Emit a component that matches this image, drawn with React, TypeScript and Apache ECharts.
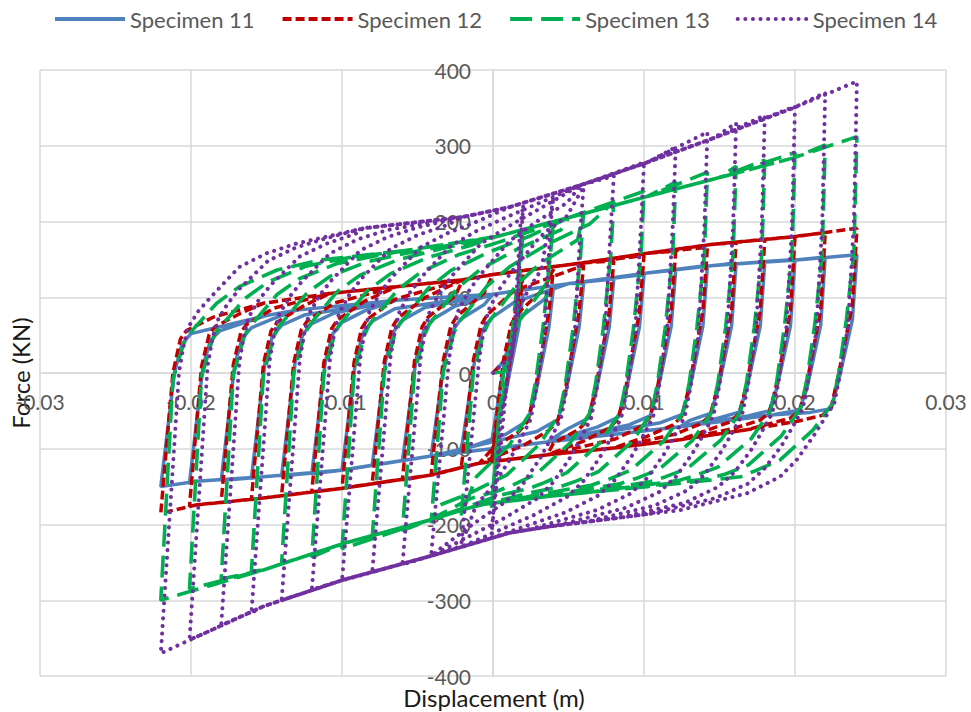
import React, { useEffect, useRef } from "react";
import * as echarts from "echarts";

// ---- axes ----
const xMin = -0.03;
const xMax = 0.03;
const xStep = 0.01;
const yMin = -400;
const yMax = 400;
const yStep = 100;

const seriesNames = ["Specimen 11", "Specimen 12", "Specimen 13", "Specimen 14"];

// ---- shared displacement protocol (peak displacements of each cycle, m) ----
const posPeakX = [0.002, 0.004, 0.006, 0.008, 0.01, 0.0121, 0.0142, 0.0161, 0.018, 0.02, 0.022, 0.0241];
const negPeakX = [-0.0001, -0.0021, -0.0041, -0.006, -0.008, -0.01, -0.012, -0.014, -0.016, -0.018, -0.0201, -0.022];

// ---- Specimen 11 ----
const s11PosF = [105, 112, 118, 124, 130, 136, 142, 145, 147, 150, 153, 156];
const s11NegF = [-92, -102, -110, -116, -122, -128, -133, -136, -139, -142, -145, -150];
const s11UpperX = [-0.0211, -0.0206, -0.02, -0.0185, -0.015, -0.013, -0.0064, 0.0, 0.005, 0.0102, 0.0146, 0.0199];
const s11UpperF = [0, 38, 52, 59, 76, 83, 96, 104, 118, 132, 142, 149];
const s11LowerX = [0.0238, 0.0229, 0.0224, 0.021, 0.0186, 0.0124, 0.0036, -0.0042, -0.0099, -0.0152, -0.0196];
const s11LowerF = [70, -9, -47, -52, -55, -71, -91, -110, -128, -137, -143];

// ---- Specimen 12 ----
const s12PosF = [130, 137, 142, 148, 155, 161, 166, 172, 176, 180, 185, 191];
const s12NegF = [-115, -125, -135, -141, -146, -152, -157, -162, -167, -171, -176, -185];
const s12UpperX = [-0.0212, -0.0207, -0.0203, -0.0185, -0.0152, -0.0108, -0.0064, -0.002, 0.0, 0.0058, 0.0102, 0.0146, 0.0199];
const s12UpperF = [0, 45, 56, 74, 92, 105, 114, 123, 130, 145, 158, 170, 180];
const s12LowerX = [0.0238, 0.0229, 0.0224, 0.0218, 0.0201, 0.0168, 0.0124, 0.008, 0.0036, -0.0009, -0.0042, -0.0099, -0.0152, -0.0196];
const s12LowerF = [90, 0, -45, -56, -64, -75, -88, -99, -108, -119, -135, -152, -165, -174];

// ---- Specimen 13 ----
const s13PosF = [190, 200, 212, 226, 240, 252, 265, 273, 281, 291, 301, 312];
const s13NegF = [-178, -188, -198, -208, -218, -232, -243, -252, -262, -272, -285, -300];
const s13UpperX = [-0.0212, -0.0205, -0.0202, -0.0183, -0.0168, -0.0143, -0.0115, -0.0057, 0.0002, 0.005, 0.0102, 0.015, 0.0199];
const s13UpperF = [-9, 38, 50, 92, 114, 136, 149, 162, 180, 205, 233, 258, 284];
const s13LowerX = [0.0239, 0.0234, 0.0229, 0.0225, 0.0212, 0.019, 0.0175, 0.0164, 0.0146, 0.0102, 0.0036, -0.0009, -0.0042, -0.0099, -0.0152, -0.0212];
const s13LowerF = [160, 70, 0, -40, -75, -115, -128, -137, -141, -150, -163, -174, -194, -225, -260, -295];

// ---- Specimen 14 ----
const s14PosF = [222, 232, 246, 260, 278, 298, 318, 330, 340, 352, 370, 385];
const s14NegF = [-213, -226, -241, -253, -263, -274, -286, -300, -317, -333, -352, -370];
const s14UpperX = [-0.0208, -0.0205, -0.0202, -0.0195, -0.0187, -0.0168, -0.015, -0.013, -0.0086, -0.002, 0.0011, 0.0058, 0.0102, 0.0146, 0.0199];
const s14UpperF = [0, 35, 60, 82, 100, 140, 158, 171, 191, 206, 219, 248, 278, 310, 350];
const s14LowerX = [0.0239, 0.0235, 0.023, 0.0226, 0.0218, 0.0212, 0.0201, 0.019, 0.0168, 0.0124, 0.008, 0.0036, 0.0011, -0.0042, -0.0099, -0.0152, -0.0196];
const s14LowerF = [200, 60, 0, -40, -65, -84, -115, -137, -159, -181, -192, -203, -211, -242, -273, -308, -348];

type Spec = {
  posF: number[];
  negF: number[];
  upperX: number[];
  upperF: number[];
  lowerX: number[];
  lowerF: number[];
  lu: number;
  ll: number;
};

const specs: Spec[] = [
  { posF: s11PosF, negF: s11NegF, upperX: s11UpperX, upperF: s11UpperF, lowerX: s11LowerX, lowerF: s11LowerF, lu: 0.005, ll: 0.005 },
  { posF: s12PosF, negF: s12NegF, upperX: s12UpperX, upperF: s12UpperF, lowerX: s12LowerX, lowerF: s12LowerF, lu: 0.006, ll: 0.006 },
  { posF: s13PosF, negF: s13NegF, upperX: s13UpperX, upperF: s13UpperF, lowerX: s13LowerX, lowerF: s13LowerF, lu: 0.014, ll: 0.014 },
  { posF: s14PosF, negF: s14NegF, upperX: s14UpperX, upperF: s14UpperF, lowerX: s14LowerX, lowerF: s14LowerF, lu: 0.012, ll: 0.012 },
];

function lookup(xs: number[], fs: number[], x: number): number {
  const pairs = xs.map((v, i) => [v, fs[i]]).sort((a, b) => a[0] - b[0]);
  if (x <= pairs[0][0]) return pairs[0][1];
  if (x >= pairs[pairs.length - 1][0]) return pairs[pairs.length - 1][1];
  for (let i = 1; i < pairs.length; i++) {
    if (x <= pairs[i][0]) {
      const [x0, f0] = pairs[i - 1];
      const [x1, f1] = pairs[i];
      return f0 + ((f1 - f0) * (x - x0)) / (x1 - x0);
    }
  }
  return pairs[pairs.length - 1][1];
}

const clamp01 = (v: number) => Math.max(0, Math.min(1, v));

function buildPath(sp: Spec): number[][] {
  const bigNeg = negPeakX[negPeakX.length - 1];
  const bigPos = posPeakX[posPeakX.length - 1];
  const pts: number[][] = [[0, 0]];

  const reload = (nx: number, target: number, targetF: number | null) => {
    const s = nx - bigNeg;
    const mergeX = nx + sp.lu;
    let lastX = nx;
    for (let j = 0; j < sp.upperX.length; j++) {
      const x = sp.upperX[j] + s;
      if (x >= target - 0.0003 || x >= mergeX) break;
      const w = clamp01((mergeX - x) / (mergeX - nx));
      const f = (1 - w) * lookup(sp.upperX, sp.upperF, x) + w * sp.upperF[j];
      pts.push([x, f]);
      lastX = x;
    }
    for (let j = 0; j < sp.upperX.length; j++) {
      const x = sp.upperX[j];
      if (x <= lastX + 0.0002) continue;
      if (x >= target - 0.0003) break;
      pts.push([x, sp.upperF[j]]);
    }
    if (targetF !== null) pts.push([target, targetF]);
  };

  const unload = (px: number, nx: number, nf: number) => {
    const s = px - bigPos;
    const mergeX = px - sp.ll;
    let lastX = px;
    for (let j = 0; j < sp.lowerX.length; j++) {
      const x = sp.lowerX[j] + s;
      if (x <= nx + 0.0003 || x <= mergeX) break;
      const w = clamp01((x - mergeX) / (px - mergeX));
      const f = (1 - w) * lookup(sp.lowerX, sp.lowerF, x) + w * sp.lowerF[j];
      pts.push([x, f]);
      lastX = x;
    }
    for (let j = 0; j < sp.lowerX.length; j++) {
      const x = sp.lowerX[j];
      if (x >= lastX - 0.0002) continue;
      if (x <= nx + 0.0003) break;
      pts.push([x, sp.lowerF[j]]);
    }
    pts.push([nx, nf]);
  };

  let nx = 0;
  for (let i = 0; i < posPeakX.length; i++) {
    reload(nx, posPeakX[i], sp.posF[i]);
    unload(posPeakX[i], negPeakX[i], sp.negF[i]);
    nx = negPeakX[i];
  }
  reload(nx, 0.0, null);
  return pts;
}

const colors = ["#4F81BD", "#C00000", "#00B050", "#7030A0"];
const lineStyles: any[] = [
  { width: 3.5, type: "solid" },
  { width: 3.5, type: [9, 4] },
  { width: 3.6, type: [22, 9] },
  { width: 4, type: [0.1, 7.5], cap: "round" },
];

const FONT = "Lato, 'Open Sans', sans-serif";

// plot area in pixels (used to put the axes through the origin)
const GRID_LEFT = 40;
const GRID_RIGHT = 25;
const GRID_TOP = 70;
const GRID_BOTTOM = 36;
const PLOT_W = 971 - GRID_LEFT - GRID_RIGHT;
const PLOT_H = 712 - GRID_TOP - GRID_BOTTOM;

export default function App() {
  const ref = useRef<HTMLDivElement>(null);
  useEffect(() => {
    if (!ref.current) return;
    const chart = echarts.init(ref.current, undefined, { renderer: "svg" });
    // distance from the default axis position to the zero line
    const xAxisOffset = -PLOT_H * ((0 - yMin) / (yMax - yMin));
    const yAxisOffset = -PLOT_W * ((0 - xMin) / (xMax - xMin));
    const option: any = {
      animation: false,
      backgroundColor: "#ffffff",
      legend: {
        top: 3,
        left: 48,
        itemWidth: 70,
        itemHeight: 12,
        itemGap: 26,
        data: seriesNames,
        itemStyle: { opacity: 0 },
        lineStyle: { width: 4 },
        textStyle: { fontSize: 22, fontFamily: FONT, color: "#595959" },
      },
      grid: { left: GRID_LEFT, right: GRID_RIGHT, top: GRID_TOP, bottom: GRID_BOTTOM, containLabel: false },
      xAxis: {
        type: "value",
        position: "bottom",
        offset: xAxisOffset,
        min: xMin,
        max: xMax,
        interval: xStep,
        axisLine: { onZero: false, lineStyle: { color: "#D9D9D9", width: 1.5 } },
        axisTick: { show: false },
        splitLine: { show: true, lineStyle: { color: "#D9D9D9", width: 1.5 } },
        axisLabel: {
          color: "#595959",
          fontSize: 21,
          fontFamily: FONT,
          margin: 18,
          formatter: (v: number) => String(parseFloat(v.toFixed(2))),
        },
      },
      yAxis: {
        type: "value",
        position: "left",
        offset: yAxisOffset,
        min: yMin,
        max: yMax,
        interval: yStep,
        axisLine: { onZero: false, lineStyle: { color: "#D9D9D9", width: 1.5 } },
        axisTick: { show: false },
        splitLine: { show: true, lineStyle: { color: "#D9D9D9", width: 1.5 } },
        axisLabel: {
          color: "#595959",
          fontSize: 21,
          fontFamily: FONT,
          margin: 22,
        },
      },
      graphic: [
        {
          type: "text",
          x: 494,
          y: 697,
          style: {
            text: "Displacement (m)",
            fontSize: 24,
            fontFamily: FONT,
            fill: "#1a1a1a",
            align: "center",
            verticalAlign: "middle",
          },
        },
        {
          type: "text",
          x: 20,
          y: 373,
          rotation: Math.PI / 2,
          style: {
            text: "Force (KN)",
            fontSize: 24,
            fontFamily: FONT,
            fill: "#1a1a1a",
            align: "center",
            verticalAlign: "middle",
          },
        },
      ],
      series: specs.map((sp, i) => ({
        name: seriesNames[i],
        type: "line",
        data: buildPath(sp),
        showSymbol: false,
        symbol: "none",
        silent: true,
        color: colors[i],
        lineStyle: { color: colors[i], ...lineStyles[i] },
        emphasis: { disabled: true },
        z: 2 + i,
      })),
    };
    chart.setOption(option);
    return () => chart.dispose();
  }, []);
  return (
    <div
      ref={ref}
      style={{ position: "absolute", left: 0, top: 0, width: 971, height: 712 }}
    />
  );
}
